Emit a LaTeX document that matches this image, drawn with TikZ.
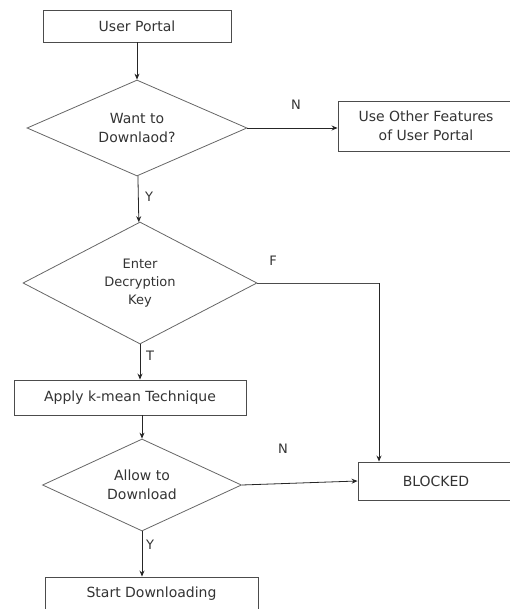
\documentclass[tikz,border=0pt]{standalone}
\usepackage{fontspec}
\setmainfont{DejaVu Sans}
\usetikzlibrary{shapes.geometric,arrows.meta}

\begin{document}
\begin{tikzpicture}[
       x=1pt, y=-1pt,
       font=\fontsize{14}{19}\selectfont,
       box_style/.style={draw=black!70, line width=0.9pt, rectangle, inner sep=0pt, text=black!80}, % 方框样式
       dia_style/.style={draw=black!60, line width=0.8pt, diamond, inner sep=0pt, align=center, text=black!80}, % 菱形样式
       arrow_style/.style={draw=black!85, line width=0.8pt, -{Stealth[length=6pt,width=5pt]}}, % 箭头样式
       line_style/.style={draw=black!70, line width=0.8pt}, % 无箭头连线
       lab_style/.style={text=black!80, font=\fontsize{13}{15}\selectfont} % 分支标签
   ]

   % 0. 固定画布大小
   \clip (0,0) rectangle (510,609);
   \useasboundingbox (0,0) rectangle (510,609);

   % 1. 入口和第一个判断
   \node[box_style, minimum width=188pt, minimum height=32pt] (portal) at (137,26) {User Portal};
   \node[dia_style, aspect=2.29, minimum width=220pt, minimum height=96pt] (want) at (137,128) {Want to\\Downlaod?};
   \node[box_style, minimum width=176pt, minimum height=50pt, align=center] (other) at (426,126) {Use Other Features\\of User Portal};

   % 2. 解密密钥判断
   \node[dia_style, aspect=1.92, minimum width=234pt, minimum height=122pt, font=\fontsize{13}{18}\selectfont] (key) at (140,283) {Enter\\Decryption\\Key};
   \node[box_style, minimum width=232pt, minimum height=35pt] (kmean) at (130,397.5) {Apply k-mean Technique};

   % 3. 下载许可判断
   \node[dia_style, aspect=2.16, minimum width=199pt, minimum height=92pt] (allow) at (142,485) {Allow to\\Download};
   \node[box_style, minimum width=156pt, minimum height=38pt] (blocked) at (436,481) {BLOCKED};
   \node[box_style, minimum width=213pt, minimum height=33pt] (start) at (151.5,593.5) {Start Downloading};

   % 4. 连线
   \draw[arrow_style] (portal) -- (want);
   \draw[arrow_style] (want.east) -- (want.east -| other.west);
   \draw[arrow_style] (want) -- (key);
   \draw[arrow_style] (key) -- (key |- kmean.north);
   \draw[arrow_style] (kmean.south -| allow.north) -- (allow);
   \draw[arrow_style] (allow.east) -- (blocked.west);
   \draw[arrow_style] (allow) -- (allow |- start.north);

   % F 分支:先向右再向下
   \coordinate (fturn) at (379,283);
   \draw[line_style] (key.east) -- (fturn);
   \draw[arrow_style] (fturn) -- (fturn |- blocked.north);

   % 5. 标签
   \node[lab_style] (nA) at (296,105) {N};
   \node[lab_style] (yA) at (149,197) {Y};
   \node[lab_style] (fB) at (273,261) {F};
   \node[lab_style] (tB) at (150,356) {T};
   \node[lab_style] (nC) at (283,449) {N};
   \node[lab_style] (yC) at (150,545) {Y};

   \end{tikzpicture}
\end{document}
